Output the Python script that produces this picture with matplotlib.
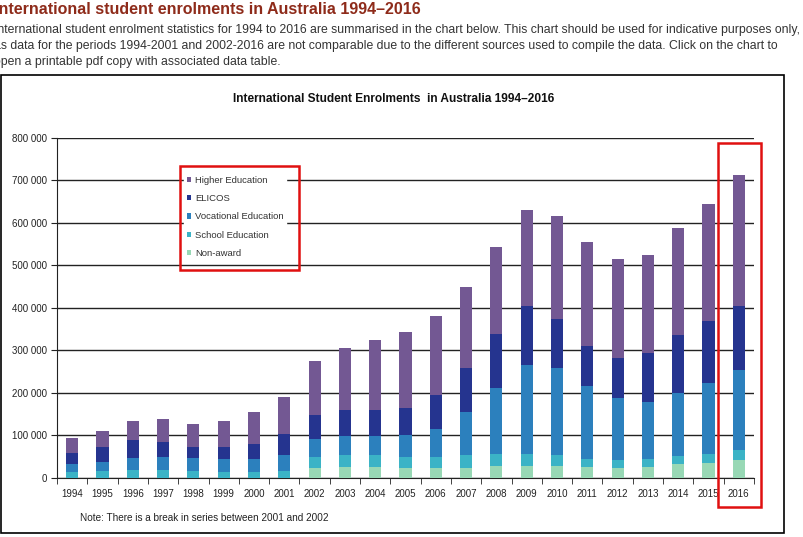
import numpy as np
import matplotlib
matplotlib.use('Agg')
import matplotlib.pyplot as plt
from matplotlib.patches import Rectangle, Patch

plt.rcParams['font.family'] = ['Liberation Sans', 'DejaVu Sans']

W, H = 804, 537

years = [str(y) for y in range(1994, 2017)]
# segment sizes, thousands of students
non_award = [0, 0, 0, 0, 0, 0, 0, 0, 24, 27, 27, 23.5, 24, 24, 29, 29, 29, 27, 23.5, 27, 32, 35, 42]
school = [15, 16, 19, 19, 16, 15, 15, 16, 25, 26, 26, 25.5, 25, 29, 28, 28, 24, 18, 18.5, 17, 19, 21, 23]
vocational = [18, 21, 28, 30, 31, 30, 30, 39, 43, 45, 45, 51, 67, 102, 155, 209, 205, 172, 145, 134, 149, 168, 190]
elicos = [25, 35, 42, 36, 25, 27, 35, 49, 56, 62, 62, 65, 78, 103, 127, 139, 115, 94, 96, 116, 137, 145, 149]
higher = [35, 39, 45, 54, 56, 62, 74, 86, 126, 146, 164, 178, 186, 192, 204, 225, 243, 243, 231, 230, 250, 275, 309]

series = ['Non-award', 'School Education', 'Vocational Education', 'ELICOS', 'Higher Education']
colors = ['#98d8b5', '#3bb3c6', '#2c80bd', '#25348f', '#735893']
yticks = np.arange(0, 800001, 100000)
ytick_labels = ['0'] + ['%d 000' % (v // 1000) for v in yticks[1:]]


def fx(x):
    return x / W


def fy(y):
    return 1 - y / H


fig = plt.figure(figsize=(W / 100, H / 100), dpi=100)
fig.patch.set_facecolor('white')

# page heading and intro text (left edge clipped like the screenshot)
fig.text(fx(-6), fy(9), 'International student enrolments in Australia 1994\u20132016',
         fontsize=11.5, fontweight='bold', color='#8e2b1a', va='center', ha='left')
para = ['International student enrolment statistics for 1994 to 2016 are summarised in the chart below. This chart should be used for indicative purposes only,',
        'as data for the periods 1994-2001 and 2002-2016 are not comparable due to the different sources used to compile the data. Click on the chart to',
        'open a printable pdf copy with associated data table.']
for i, line in enumerate(para):
    fig.text(fx(-6), fy(30 + 16 * i), line, fontsize=8.8, color='#333333', va='center', ha='left')

# chart frame
fig.patches.append(Rectangle((fx(1), fy(533)), fx(783), (533 - 75) / H, transform=fig.transFigure,
                             fill=False, edgecolor='black', lw=1.2))
fig.text(fx(394), fy(99), 'International Student Enrolments  in Australia 1994\u20132016',
         fontsize=8.6, fontweight='bold', ha='center', va='center', color='#111111')

left, right, top, bottom = 57, 754, 137.7, 478
ax = fig.add_axes([fx(left), fy(bottom), (right - left) / W, (bottom - top) / H])

x = np.arange(len(years))
base = np.zeros(len(years))
handles = []
for name, vals, c in zip(series, [non_award, school, vocational, elicos, higher], colors):
    v = np.array(vals) * 1000
    ax.bar(x, v, 0.4, bottom=base, color=c, zorder=3, label=name)
    base += v
    handles.append(Patch(facecolor=c, label=name))

ax.set_xlim(-0.5, len(years) - 0.5)
ax.set_ylim(0, 800000)
ax.set_yticks(yticks)
ax.set_yticklabels(ytick_labels, fontsize=7, color='#222222')
ax.yaxis.grid(True, color='#222222', lw=1, zorder=1)
ax.set_xticks(x)
ax.set_xticklabels(years, fontsize=7, color='#222222')
ax.set_xticks(np.arange(-0.5, len(years)), minor=True)
ax.tick_params(axis='x', which='major', length=0, pad=8)
ax.tick_params(axis='x', which='minor', length=4, direction='out', color='#222222')
ax.tick_params(axis='y', length=4, direction='out', color='#222222', pad=3)
for s in ['top', 'right']:
    ax.spines[s].set_visible(False)
ax.spines['left'].set_color('#222222')
ax.spines['bottom'].set_color('#222222')

leg = ax.legend(handles=handles[::-1], loc='upper left',
                bbox_to_anchor=(fx(184), fy(173)), bbox_transform=fig.transFigure,
                fontsize=6.8, frameon=True, fancybox=False, framealpha=1,
                edgecolor='white', facecolor='white', handlelength=0.45, handleheight=0.45,
                handletextpad=0.4, labelspacing=0.98, borderpad=0.3, borderaxespad=0)
leg.set_zorder(5)
for t in leg.get_texts():
    t.set_color('#333333')

fig.text(fx(80), fy(518), 'Note: There is a break in series between 2001 and 2002',
         fontsize=7.2, color='#222222', va='center', ha='left')

# red highlight boxes
for (x0, y0, x1, y1) in [(180, 166, 299, 270), (718, 143, 761, 507)]:
    fig.patches.append(Rectangle((fx(x0), fy(y1)), fx(x1 - x0), (y1 - y0) / H, transform=fig.transFigure,
                                 fill=False, edgecolor='#e01010', lw=1.8, zorder=10))

fig.savefig('out.png', dpi=100)
